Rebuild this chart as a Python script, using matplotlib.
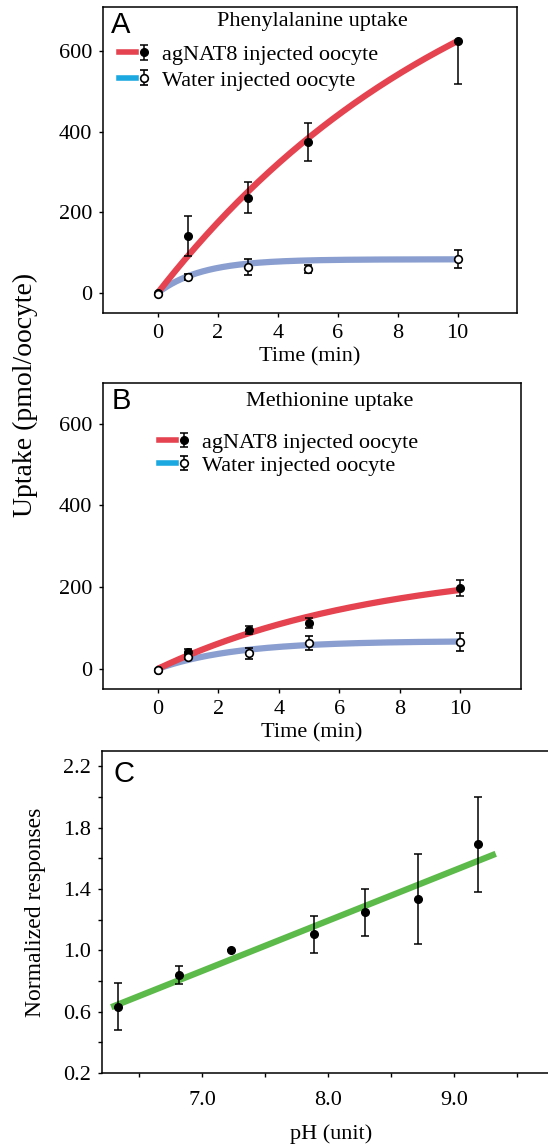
import numpy as np
import matplotlib
matplotlib.use("Agg")
import matplotlib.pyplot as plt
from matplotlib.lines import Line2D
from matplotlib.container import ErrorbarContainer
from matplotlib.legend_handler import HandlerTuple, HandlerErrorbar
from matplotlib.ticker import FixedLocator

plt.rcParams['font.family'] = ['Liberation Serif', 'DejaVu Serif']

# ---- data ----
time_min = [0, 1, 3, 5, 10]

# A: phenylalanine uptake (pmol/oocyte)
phe_nat8 = [0, 140, 236, 375, 625]
phe_nat8_err_lo = [0, 50, 38, 47, 107]
phe_nat8_err_hi = [0, 50, 38, 47, 0]
phe_water = [-2, 39, 64, 59, 84]
phe_water_err = [0, 8, 19, 11, 23]

# B: methionine uptake
met_nat8 = [-2, 42, 94, 112, 197]
met_nat8_err = [0, 6, 10, 12, 20]
met_water = [-4, 28, 38, 63, 66]
met_water_err = [0, 5, 13, 17, 22]

# fitted saturation curves y = vmax * (1 - exp(-k t)), params
phe_nat8_fit = (1041, 0.0918)
phe_water_fit = (83, 0.68)
met_nat8_fit = (260, 0.1355)
met_water_fit = (68, 0.385)

# C: pH dependence
ph_values = [6.33, 6.82, 7.23, 7.89, 8.29, 8.71, 9.19]
norm_resp = [0.631, 0.838, 1.0, 1.104, 1.248, 1.335, 1.692]
norm_err = [0.153, 0.06, 0.0, 0.12, 0.154, 0.295, 0.31]

RED = '#e5434f'
BLUE_FIT = '#8a9fcf'
CYAN = '#1ba8e0'
GREEN = '#5cba4a'

FS = 16


def style_axes(ax):
    for s in ax.spines.values():
        s.set_linewidth(1.1)
    ax.tick_params(direction='out', length=3, width=1.0, labelsize=FS, pad=5)


def uptake_panel(ax, nat8, nat8_err, water, water_err, fit_nat8, fit_water,
                 title, letter, title_xy, leg_xy, leg_space, xlim, ylim):
    tt = np.linspace(0, 10, 200)
    ax.plot(tt, fit_water[0] * (1 - np.exp(-fit_water[1] * tt)), color=BLUE_FIT,
            lw=4.5, solid_capstyle='butt', zorder=2)
    ax.plot(tt, fit_nat8[0] * (1 - np.exp(-fit_nat8[1] * tt)), color=RED,
            lw=4.5, solid_capstyle='butt', zorder=2)
    eb1 = ax.errorbar(time_min, nat8, yerr=nat8_err, fmt='o', ms=5.5, mfc='black',
                      mec='black', ecolor='black', elinewidth=1.1, capsize=3,
                      capthick=1.1, zorder=4)
    eb2 = ax.errorbar(time_min, water, yerr=water_err, fmt='o', ms=5.5, mfc='white',
                      mec='black', mew=1.2, ecolor='black', elinewidth=1.1,
                      capsize=3, capthick=1.1, zorder=5)
    red_line = Line2D([], [], color=RED, lw=4)
    cyan_line = Line2D([], [], color=CYAN, lw=4)
    ax.legend(handles=[(red_line, eb1), (cyan_line, eb2)],
              labels=['agNAT8 injected oocyte', 'Water injected oocyte'],
              handler_map={tuple: HandlerTuple(ndivide=None),
                           ErrorbarContainer: HandlerErrorbar(yerr_size=0.33)},
              loc='upper left', bbox_to_anchor=leg_xy, frameon=False,
              fontsize=FS, handlelength=1.5, handletextpad=0.45,
              labelspacing=leg_space, borderaxespad=0, borderpad=0)
    ax.text(title_xy[0], title_xy[1], title, transform=ax.transAxes,
            ha='center', va='center', fontsize=FS)
    ax.text(0.02, 0.985, letter, transform=ax.transAxes, ha='left', va='top',
            fontsize=21, family=['Liberation Sans', 'DejaVu Sans'])
    ax.set_xlim(*xlim)
    ax.set_ylim(*ylim)
    ax.set_xticks([0, 2, 4, 6, 8, 10])
    ax.set_yticks([0, 200, 400, 600])
    ax.set_xlabel('Time (min)', fontsize=FS, labelpad=3)
    style_axes(ax)


fig = plt.figure(figsize=(5.48, 11.46), dpi=100)

axA = fig.add_axes([0.188, 0.727, 0.755, 0.267])
uptake_panel(axA, phe_nat8, [phe_nat8_err_lo, phe_nat8_err_hi], phe_water,
             phe_water_err, phe_nat8_fit, phe_water_fit, 'Phenylalanine uptake',
             'A', (0.505, 0.951), (0.039, 0.877), 0.22, (-1.83, 11.97), (-50, 710))

axB = fig.add_axes([0.188, 0.399, 0.763, 0.267])
uptake_panel(axB, met_nat8, met_nat8_err, met_water, met_water_err,
             met_nat8_fit, met_water_fit, 'Methionine uptake', 'B',
             (0.543, 0.938), (0.134, 0.838), 0.1, (-1.82, 12.02), (-49, 700))

fig.text(0.046, 0.655, 'Uptake (pmol/oocyte)', rotation=90, ha='center',
         va='center', fontsize=20)

# panel C
axC = fig.add_axes([0.186, 0.0637, 0.836, 0.281])
slope, icpt = np.polyfit(ph_values, norm_resp, 1)
xx = np.array([6.28, 9.33])
axC.plot(xx, slope * xx + icpt, color=GREEN, lw=4.5, solid_capstyle='butt', zorder=2)
axC.errorbar(ph_values, norm_resp, yerr=norm_err, fmt='o', ms=5.5, mfc='black',
             mec='black', ecolor='black', elinewidth=1.1, capsize=3,
             capthick=1.1, zorder=4)
axC.set_xlim(6.206, 9.84)
axC.set_ylim(0.2, 2.3)
axC.xaxis.set_major_locator(FixedLocator([7.0, 8.0, 9.0]))
axC.xaxis.set_minor_locator(FixedLocator([6.5, 7.5, 8.5, 9.5]))
axC.yaxis.set_major_locator(FixedLocator([0.2, 0.6, 1.0, 1.4, 1.8, 2.2]))
axC.yaxis.set_minor_locator(FixedLocator([0.4, 0.8, 1.2, 1.6, 2.0]))
axC.xaxis.set_major_formatter(plt.FuncFormatter(lambda v, p: f'{v:.1f}'))
axC.yaxis.set_major_formatter(plt.FuncFormatter(lambda v, p: f'{v:.1f}'))
style_axes(axC)
axC.tick_params(axis='x', pad=10)
axC.tick_params(which='minor', direction='out', length=3, width=1.0)
axC.set_xlabel('pH (unit)', fontsize=FS, labelpad=10)
axC.set_ylabel('Normalized responses', fontsize=17, labelpad=12)
axC.text(0.025, 0.972, 'C', transform=axC.transAxes, ha='left', va='top',
         fontsize=21, family=['Liberation Sans', 'DejaVu Sans'])

fig.savefig('out.png', dpi=100)
